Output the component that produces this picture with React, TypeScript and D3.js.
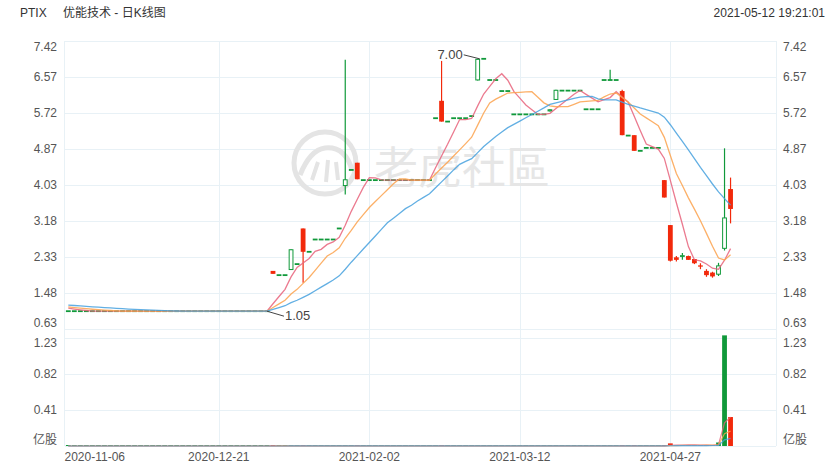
import React from 'react';
import * as d3 from 'd3';

const W = 840;
const H = 470;

// [open, high, low, close] per trading day, oldest first
const ohlc: number[][] = [
  [1.05,1.05,1.05,1.05],[1.05,1.05,1.05,1.05],[1.05,1.05,1.05,1.05],[1.05,1.05,1.05,1.05],[1.05,1.05,1.05,1.05],
  [1.05,1.05,1.05,1.05],[1.05,1.05,1.05,1.05],[1.05,1.05,1.05,1.05],[1.05,1.05,1.05,1.05],[1.05,1.05,1.05,1.05],
  [1.05,1.05,1.05,1.05],[1.05,1.05,1.05,1.05],[1.05,1.05,1.05,1.05],[1.05,1.05,1.05,1.05],[1.05,1.05,1.05,1.05],
  [1.05,1.05,1.05,1.05],[1.05,1.05,1.05,1.05],[1.05,1.05,1.05,1.05],[1.05,1.05,1.05,1.05],[1.05,1.05,1.05,1.05],
  [1.05,1.05,1.05,1.05],[1.05,1.05,1.05,1.05],[1.05,1.05,1.05,1.05],[1.05,1.05,1.05,1.05],[1.05,1.05,1.05,1.05],
  [1.05,1.05,1.05,1.05],[1.05,1.05,1.05,1.05],[1.05,1.05,1.05,1.05],[1.05,1.05,1.05,1.05],[1.05,1.05,1.05,1.05],
  [1.05,1.05,1.05,1.05],[1.05,1.05,1.05,1.05],[1.05,1.05,1.05,1.05],[1.05,1.05,1.05,1.05],
  [2.00,2.00,1.93,1.93],
  [1.90,1.90,1.90,1.90],
  [1.90,1.90,1.90,1.90],
  [2.02,2.51,2.02,2.51],
  [2.16,2.16,2.16,2.16],
  [3.00,3.00,1.72,2.45],
  [2.45,2.45,2.45,2.45],
  [2.74,2.74,2.74,2.74],[2.74,2.74,2.74,2.74],[2.74,2.74,2.74,2.74],[2.74,2.74,2.74,2.74],
  [3.00,3.00,3.00,3.00],
  [4.00,6.98,3.80,4.16],
  [4.38,4.38,4.38,4.38],
  [4.55,4.55,4.16,4.16],
  [4.14,4.14,4.14,4.14],[4.14,4.14,4.14,4.14],[4.14,4.14,4.14,4.14],[4.14,4.14,4.14,4.14],
  [4.14,4.14,4.14,4.14],[4.14,4.14,4.14,4.14],[4.14,4.14,4.14,4.14],[4.14,4.14,4.14,4.14],
  [4.14,4.14,4.14,4.14],[4.14,4.14,4.14,4.14],[4.14,4.14,4.14,4.14],[4.14,4.14,4.14,4.14],
  [5.60,5.60,5.60,5.60],
  [6.01,6.95,5.52,5.52],
  [5.52,5.52,5.52,5.52],
  [5.60,5.60,5.60,5.60],[5.60,5.60,5.60,5.60],[5.60,5.60,5.60,5.60],[5.65,5.65,5.65,5.65],
  [6.49,7.00,6.49,7.00],
  [7.00,7.00,7.00,7.00],
  [6.50,6.50,6.50,6.50],[6.50,6.50,6.50,6.50],
  [6.24,6.24,6.24,6.24],[6.24,6.24,6.24,6.24],
  [5.69,5.69,5.69,5.69],[5.69,5.69,5.69,5.69],[5.69,5.69,5.69,5.69],
  [5.69,5.69,5.69,5.69],[5.69,5.69,5.69,5.69],[5.69,5.69,5.69,5.69],
  [5.76,5.81,5.76,5.81],
  [6.03,6.27,6.03,6.27],
  [6.25,6.25,6.25,6.25],[6.25,6.25,6.25,6.25],[6.25,6.25,6.25,6.25],[6.25,6.25,6.25,6.25],
  [5.81,5.81,5.81,5.81],[5.81,5.81,5.81,5.81],[5.81,5.81,5.81,5.81],
  [6.50,6.50,6.50,6.50],
  [6.50,6.74,6.50,6.50],
  [6.50,6.50,6.50,6.50],
  [6.24,6.27,5.20,5.20],
  [5.19,5.19,5.19,5.19],
  [5.20,5.20,4.83,4.83],
  [4.83,4.83,4.83,4.83],
  [4.90,4.90,4.90,4.90],[4.90,4.90,4.90,4.90],[4.90,4.90,4.90,4.90],
  [4.14,4.14,3.73,3.73],
  [3.08,3.08,2.22,2.24],
  [2.32,2.35,2.22,2.26],
  [2.33,2.42,2.26,2.37],
  [2.35,2.36,2.26,2.26],
  [2.28,2.28,2.16,2.18],
  [2.13,2.18,2.04,2.10],
  [2.00,2.04,1.86,1.90],
  [1.96,1.98,1.84,1.87],
  [1.91,2.19,1.88,2.13],
  [2.52,4.89,2.48,3.26],
  [3.93,4.20,3.12,3.46],
];

// volume in 亿股 (100M shares)
const volume: number[] = [
  0,0,0,0,0,0,0,0,0,0, 0,0,0,0,0,0,0,0,0,0,
  0,0,0,0,0,0,0,0,0,0, 0,0,0,0,
  0.002,0.001,0.001,0.002,0.001,0.003,0.001,0.001,0.001,0.001,0.001,0.001,0.004,0.001,0.002,
  0.001,0.001,0.001,0.001,0.001,0.001,0.001,0.001,0.001,0.001,0.001,0.001,
  0.001,0.003,0.001,0.001,0.001,0.001,0.001,0.002,0.001,0.001,0.001,0.001,0.001,
  0.001,0.001,0.001,0.001,0.001,0.001,0.001,0.002,0.001,0.001,0.001,0.001,0.001,0.001,0.001,
  0.001,0.002,0.001,0.003,0.001,0.002,0.001,0.001,0.001,0.001,0.003,
  0.030,0.010,0.010,0.010,0.010,0.008,0.008,0.008,0.040,1.26,0.33,
];

// closes before the visible window (only used to seed the moving averages)
const priorCloses = [1.25,1.25,1.25,1.24,1.24,1.24,1.23,1.23,1.22,1.22,1.20,1.19,1.18,1.17,1.16,1.15,1.14,1.13,1.13];

const priceTicks = [7.42, 6.57, 5.72, 4.87, 4.03, 3.18, 2.33, 1.48, 0.63];
const volTicks = [1.23, 0.82, 0.41];
const dateTickIdx = [0, 25, 50, 75, 100];
const dateTickLabels = ['2020-11-06', '2020-12-21', '2021-02-02', '2021-03-12', '2021-04-27'];
const maPeriods = [5, 10, 20];
const maColors = ['#e8637b', '#fba24e', '#47a1de'];

const RED = '#f2290b';
const GREEN = '#10993a';
const GRID = '#e8f1f6';
const LABEL = '#555';
const FONT = 'Arial, "Liberation Sans", "Noto Sans CJK SC", sans-serif';

function movingAverage(values: number[], prior: number[], n: number): number[] {
  const all = prior.concat(values);
  const off = prior.length;
  return values.map((_, i) => {
    const end = off + i;
    const start = Math.max(0, end - n + 1);
    return d3.mean(all.slice(start, end + 1)) as number;
  });
}

export default function App() {
  const left = 65.3, right = 775.7;
  const mainTop = 41, mainBottom = 329;
  const volTop = 338, volBottom = 446;
  const slots = 118;

  const x = d3.scaleLinear().domain([-0.5, slots - 0.5]).range([left, right]);
  const bodyW = 4.8;
  const y = d3.scaleLinear().domain([0.63, 7.42]).range([mainBottom, mainTop]);
  const yv = d3.scaleLinear().domain([0, 1.23]).range([volBottom, volTop]);

  const closes = ohlc.map(d => d[3]);
  const priceMAs = maPeriods.map(n => movingAverage(closes, priorCloses, n));
  const volMAs = maPeriods.map(n => movingAverage(volume, [], n));

  const line = d3.line<number>().x((_, i) => x(i)).y(d => y(d));
  const vline = d3.line<number>().x((_, i) => x(i)).y(d => yv(d));

  const hiIdx = d3.maxIndex(ohlc, d => d[1]);
  const minLow = d3.min(ohlc, d => d[2]) as number;
  const loIdx = d3.range(ohlc.length).filter(i => ohlc[i][2] === minLow).pop() as number;

  const plotL = 64.5, plotR = 776;

  return (
    <svg width={W} height={H} style={{ display: 'block', position: 'absolute', left: 0, top: 0, background: '#fff' }} fontFamily={FONT}>
      <rect x={0} y={0} width={W} height={H} fill="#fff" />
      {/* header */}
      <text x={20} y={17} fontSize={12} fill="#333">PTIX</text>
      <text x={63} y={17} fontSize={12} fill="#333">优能技术 - 日K线图</text>
      <text x={825} y={17} fontSize={12} fill="#333" textAnchor="end">2021-05-12 19:21:01</text>

      {/* grid */}
      <g stroke={GRID} strokeWidth={1} shapeRendering="crispEdges">
        {priceTicks.map((t, k) => (
          <line key={'pg' + k} x1={plotL} x2={plotR} y1={Math.round(y(t)) + 0.5} y2={Math.round(y(t)) + 0.5} />
        ))}
        {volTicks.map((t, k) => (
          <line key={'vg' + k} x1={plotL} x2={plotR} y1={Math.round(yv(t)) + 0.5} y2={Math.round(yv(t)) + 0.5} />
        ))}
        <line x1={plotL} x2={plotR} y1={volBottom + 0.5} y2={volBottom + 0.5} />
        {dateTickIdx.slice(1).map((t, k) => (
          <line key={'xg' + k} x1={Math.round(x(t)) + 0.5} x2={Math.round(x(t)) + 0.5} y1={mainTop} y2={volBottom} />
        ))}
        <line x1={plotL} x2={plotL} y1={mainTop} y2={volBottom} />
        <line x1={plotR} x2={plotR} y1={mainTop} y2={volBottom} />
      </g>

      {/* watermark */}
      <g>
        <circle cx={325} cy={163} r={31} fill="none" stroke="#e4e4e4" strokeWidth={5} />
        <path d="M300,175 Q310,150 325,148 Q345,146 352,170" fill="none" stroke="#e4e4e4" strokeWidth={5} />
        <path d="M312,180 L318,162 M326,182 L328,160 M338,180 L336,162" fill="none" stroke="#e4e4e4" strokeWidth={4} />
        <text x={374} y={184} fontSize={44} fill="#e6e6e6" fontFamily='"Noto Sans CJK SC", sans-serif'>老虎社區</text>
      </g>

      {/* y labels */}
      {priceTicks.map((t, k) => {
        const yy = Math.min(Math.max(y(t), mainTop + 6), mainBottom - 6);
        return (
          <g key={'pl' + k} fontSize={12} fill={LABEL}>
            <text x={57} y={yy + 4} textAnchor="end">{t.toFixed(2)}</text>
            <text x={783} y={yy + 4}>{t.toFixed(2)}</text>
          </g>
        );
      })}
      {volTicks.map((t, k) => {
        const yy = Math.max(yv(t), volTop + 5);
        return (
          <g key={'vl' + k} fontSize={12} fill={LABEL}>
            <text x={57} y={yy + 4} textAnchor="end">{t.toFixed(2)}</text>
            <text x={783} y={yy + 4}>{t.toFixed(2)}</text>
          </g>
        );
      })}
      <text x={57} y={volBottom - 2} fontSize={12} fill={LABEL} textAnchor="end">亿股</text>
      <text x={783} y={volBottom - 2} fontSize={12} fill={LABEL}>亿股</text>

      {/* date labels */}
      {dateTickIdx.map((t, k) => (
        <text key={'dl' + k} x={k === 0 ? plotL : x(t)} y={461} fontSize={12} fill={LABEL} textAnchor={k === 0 ? 'start' : 'middle'}>
          {dateTickLabels[k]}
        </text>
      ))}

      {/* volume bars */}
      {volume.map((v, i) => {
        const d = ohlc[i];
        const up = d[3] >= d[0];
        const h = Math.max(1, volBottom - yv(v));
        return (
          <rect key={'vb' + i} x={x(i) - bodyW / 2} y={volBottom - h} width={bodyW} height={h}
            fill={up ? GREEN : RED} />
        );
      })}
      {volMAs.map((m, k) => (
        <path key={'vma' + k} d={vline(m) as string} fill="none" stroke={maColors[k]} strokeWidth={1.2} strokeOpacity={0.8} />
      ))}

      {/* candles */}
      {ohlc.map((d, i) => {
        const [o, hi, lo, c] = d;
        const cx = x(i);
        const flat = Math.abs(c - o) < 1e-9;
        const up = c >= o;
        const col = up ? GREEN : RED;
        const els: React.ReactNode[] = [];
        if (hi - lo > 1e-9) {
          els.push(<line key="w" x1={cx} x2={cx} y1={y(hi)} y2={y(lo)} stroke={col} strokeWidth={1.2} />);
        }
        if (flat) {
          els.push(<rect key="b" x={cx - bodyW / 2} y={y(c) - 0.9} width={bodyW} height={1.8} fill={col} />);
        } else if (up) {
          els.push(<rect key="b" x={cx - bodyW / 2 + 0.5} y={y(c) + 0.5} width={bodyW - 1} height={Math.max(0.5, y(o) - y(c) - 1)}
            fill="#fff" stroke={col} strokeWidth={1} />);
        } else {
          els.push(<rect key="b" x={cx - bodyW / 2} y={y(o)} width={bodyW} height={Math.max(1.2, y(c) - y(o))} fill={col} />);
        }
        return <g key={'c' + i}>{els}</g>;
      })}

      {/* price MAs */}
      {priceMAs.map((m, k) => (
        <path key={'ma' + k} d={line(m) as string} fill="none" stroke={maColors[k]} strokeWidth={1.3} strokeOpacity={0.85} />
      ))}

      {/* high / low annotations */}
      <g fontSize={13} fill="#444">
        <line x1={x(hiIdx) + 2} y1={y(ohlc[hiIdx][1])} x2={x(hiIdx) - 14} y2={y(ohlc[hiIdx][1]) - 4} stroke="#444" strokeWidth={1} />
        <text x={x(hiIdx) - 15} y={y(ohlc[hiIdx][1])} textAnchor="end">{ohlc[hiIdx][1].toFixed(2)}</text>
        <line x1={x(loIdx)} y1={y(ohlc[loIdx][2])} x2={x(loIdx) + 17} y2={y(ohlc[loIdx][2]) + 5} stroke="#444" strokeWidth={1} />
        <text x={x(loIdx) + 18} y={y(ohlc[loIdx][2]) + 9}>{ohlc[loIdx][2].toFixed(2)}</text>
      </g>
    </svg>
  );
}
